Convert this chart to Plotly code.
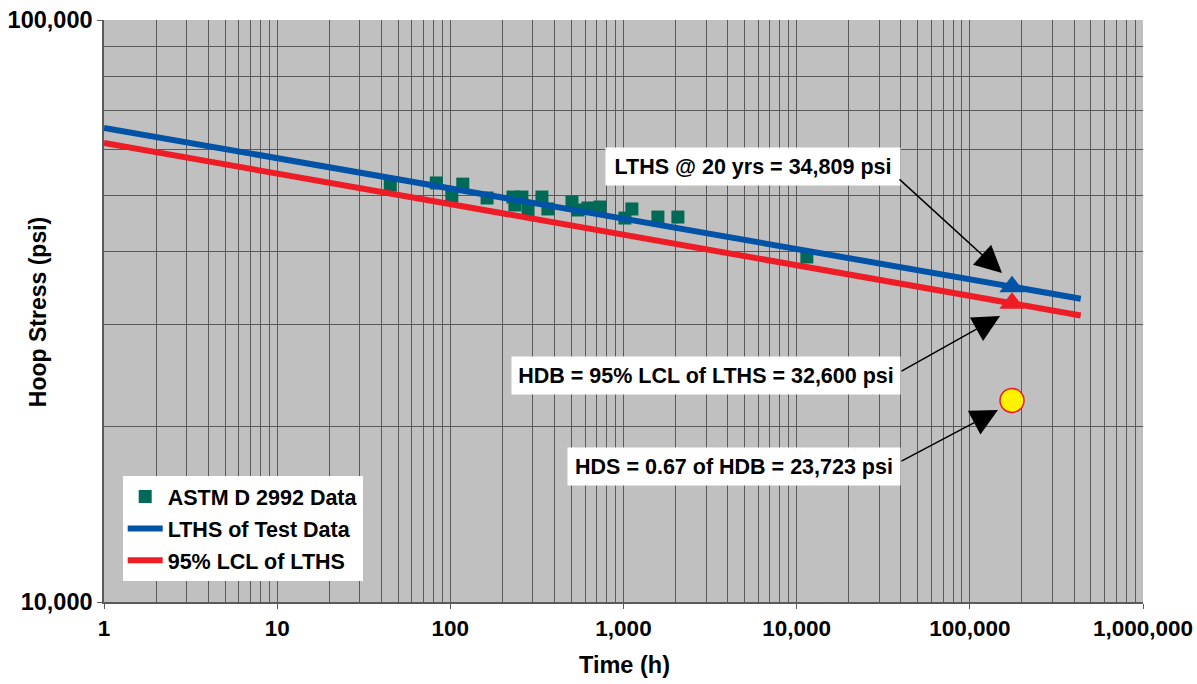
import plotly.graph_objects as go

# ---- data ----
test_time_h = [45, 83, 102, 118, 163, 230, 259, 236, 281, 338, 366, 504, 545, 623, 731, 1019, 1118, 1580, 2061, 11450]
test_stress_psi = [52060, 52480, 49840, 52240, 49450, 49640, 49640, 48100, 47160, 49640, 47350, 48670, 47160, 47530, 47720, 45680, 47350, 45860, 45860, 39160]

line_time_h = [1, 437000]
lths_psi = [65250, 33200]
lcl_psi = [61480, 31070]

design_time_h = [175200]
lths_20yr_psi = [34809]
hdb_psi = [32600]
hds_plot_psi = [22200]

x_tick_vals = [1, 10, 100, 1000, 10000, 100000, 1000000]
x_tick_text = ["1", "10", "100", "1,000", "10,000", "100,000", "1,000,000"]
y_tick_vals = [10000, 100000]
y_tick_text = ["10,000", "100,000"]

FONT = "Liberation Sans, Arial, sans-serif"
GRID = "#5a5a5a"

fig = go.Figure()
fig.add_trace(go.Scatter(x=test_time_h, y=test_stress_psi, mode="markers", name="ASTM D 2992 Data",
                         marker=dict(symbol="square", size=13, color="#006a56"), legendgroup="a"))
fig.add_trace(go.Scatter(x=line_time_h, y=lths_psi, mode="lines", name="LTHS of Test Data",
                         line=dict(color="#0053a6", width=6), legendgroup="b"))
fig.add_trace(go.Scatter(x=line_time_h, y=lcl_psi, mode="lines", name="95% LCL of LTHS",
                         line=dict(color="#ee1c25", width=6), legendgroup="c"))
fig.add_trace(go.Scatter(x=design_time_h, y=lths_20yr_psi, mode="markers", showlegend=False,
                         marker=dict(symbol="triangle-up", size=22, color="#0053a6")))
fig.add_trace(go.Scatter(x=design_time_h, y=hdb_psi, mode="markers", showlegend=False,
                         marker=dict(symbol="triangle-up", size=22, color="#ee1c25")))
fig.add_trace(go.Scatter(x=design_time_h, y=hds_plot_psi, mode="markers", showlegend=False,
                         marker=dict(symbol="circle", size=24, color="#fff200",
                                     line=dict(color="#ee1c25", width=1.5))))

axis_common = dict(showgrid=True, gridcolor=GRID, gridwidth=1.3, zeroline=False,
                   showline=True, linecolor=GRID, linewidth=1.5, ticks="outside",
                   ticklen=5, tickcolor=GRID, mirror=False, automargin=False)

fig.update_xaxes(type="log", range=[0, 6], tickvals=x_tick_vals, ticktext=x_tick_text,
                 tickfont=dict(family=FONT, size=22.5, color="black", weight="bold"),
                 minor=dict(showgrid=True, gridcolor=GRID, gridwidth=1.1, dtick="D1", ticks=""),
                 **axis_common)
fig.update_yaxes(type="log", range=[4, 5], tickvals=y_tick_vals, ticktext=y_tick_text,
                 tickfont=dict(family=FONT, size=23.5, color="black", weight="bold"),
                 minor=dict(showgrid=True, gridcolor=GRID, gridwidth=1.1, dtick="D1", ticks=""),
                 **axis_common)

ann_font = dict(family=FONT, size=21.5, color="black", weight="bold")
boxes = [
    ("LTHS @ 20 yrs = 34,809 psi", 0.6246, 0.7483, 284),
    ("HDB = 95% LCL of LTHS = 32,600 psi", 0.5794, 0.390, 378),
    ("HDS = 0.67 of HDB = 23,723 psi", 0.6063, 0.232, 322),
]
for txt, x, y, w in boxes:
    fig.add_annotation(text=txt, xref="paper", yref="paper", x=x, y=y, showarrow=False,
                       bgcolor="white", font=ann_font, width=w, height=27, borderpad=5,
                       xanchor="center", yanchor="middle")

arrows = [(0.8643, 0.5653, -104, -95), (0.8624, 0.4914, -100, 56), (0.8604, 0.3299, -98, 52)]
for x, y, ax, ay in arrows:
    fig.add_annotation(text="", xref="paper", yref="paper", x=x, y=y, ax=ax, ay=ay,
                       showarrow=True, arrowhead=2, arrowsize=3.6, arrowwidth=1.5,
                       arrowcolor="black", standoff=0)

fig.add_annotation(text="Time (h)", xref="paper", yref="paper", x=0.5005, y=-0.108,
                   xanchor="center", yanchor="middle",
                   showarrow=False, font=dict(family=FONT, size=23.5, color="black", weight="bold"))
fig.add_annotation(text="Hoop Stress (psi)", xref="paper", yref="paper", x=-0.0635, y=0.498,
                   xanchor="center", yanchor="middle",
                   showarrow=False, textangle=-90,
                   font=dict(family=FONT, size=23, color="black", weight="bold"))

fig.update_layout(
    width=1197, height=684,
    margin=dict(l=104, r=54, t=20, b=82),
    plot_bgcolor="#c0c0c0", paper_bgcolor="white",
    showlegend=True,
    legend=dict(x=0.018, y=0.2165, xanchor="left", yanchor="top", bgcolor="white",
                font=dict(family=FONT, size=21.5, color="black", weight="bold"),
                tracegroupgap=1, itemwidth=35),
)

fig.write_html("out.html", config={"displayModeBar": False},
               post_script="document.body.style.margin='0';")
